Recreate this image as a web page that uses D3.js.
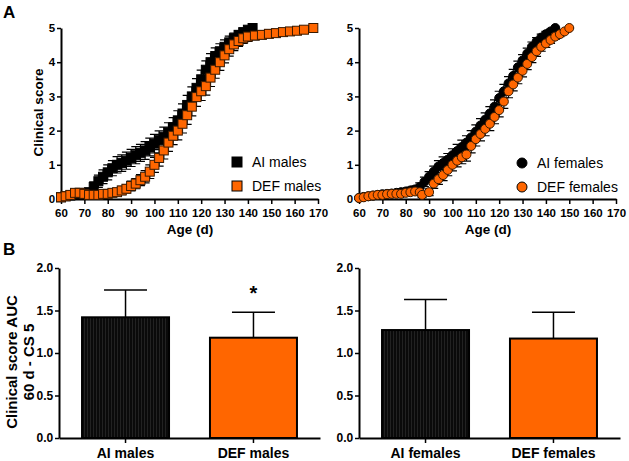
<!DOCTYPE html>
<html><head><meta charset="utf-8">
<script src="https://cdn.jsdelivr.net/npm/d3@7"></script>
<style>body{margin:0;background:#fff}svg{display:block}text{font-family:"Liberation Sans",Arial,sans-serif}</style>
</head><body>
<svg id="c" width="629" height="461"></svg>
<script>
// ---------- DATA ----------
const aiMalesDay  = [60,62,64,66,68,70,72,74,76,78,80,82,84,86,88,90,92,94,96,98,100,102,104,106,108,110,112,114,116,118,120,122,124,126,128,130,132,134,136,138,140,142];
const aiMalesMean = [0.05,0.08,0.1,0.15,0.18,0.15,0.2,0.35,0.52,0.65,0.78,0.9,1.0,1.05,1.12,1.2,1.28,1.35,1.42,1.52,1.62,1.72,1.82,1.95,2.1,2.3,2.5,2.75,3.0,3.25,3.5,3.78,4.0,4.18,4.32,4.45,4.58,4.7,4.8,4.88,4.95,5.0];
const aiMalesSem  = [0.05,0.06,0.07,0.08,0.08,0.08,0.1,0.15,0.18,0.2,0.22,0.22,0.24,0.24,0.25,0.25,0.25,0.25,0.26,0.26,0.27,0.27,0.28,0.28,0.28,0.28,0.28,0.28,0.28,0.27,0.27,0.26,0.25,0.24,0.22,0.2,0.18,0.15,0.12,0.1,0.06,0.0];
const defMalesDay  = [60,62,64,66,68,70,72,74,76,78,80,82,84,86,88,90,92,94,96,98,100,102,104,106,108,110,112,114,116,118,120,122,124,126,128,130,132,134,136,138,140,143,146,149,152,155,158,161,164,168];
const defMalesMean = [0.05,0.08,0.12,0.18,0.18,0.15,0.12,0.12,0.12,0.15,0.15,0.18,0.2,0.25,0.3,0.38,0.45,0.55,0.65,0.8,1.0,1.2,1.42,1.65,1.85,2.0,2.2,2.45,2.7,2.98,3.15,3.3,3.55,3.78,4.0,4.2,4.38,4.52,4.62,4.7,4.75,4.78,4.8,4.83,4.85,4.88,4.9,4.92,4.95,5.0];
const defMalesSem  = [0.05,0.06,0.08,0.1,0.1,0.08,0.08,0.08,0.08,0.08,0.1,0.1,0.1,0.12,0.12,0.14,0.15,0.16,0.18,0.2,0.22,0.24,0.25,0.26,0.26,0.27,0.27,0.27,0.27,0.27,0.27,0.26,0.26,0.25,0.24,0.22,0.2,0.18,0.16,0.15,0.14,0.13,0.12,0.12,0.11,0.1,0.09,0.08,0.06,0.0];
const aiFemDay  = [60,62,64,66,68,70,72,74,76,78,80,82,84,86,88,90,92,94,96,98,100,102,104,106,108,110,112,114,116,118,120,122,124,126,128,130,132,134,136,138,140,142,144];
const aiFemMean = [0.03,0.06,0.08,0.1,0.12,0.14,0.15,0.16,0.18,0.2,0.22,0.25,0.28,0.35,0.5,0.65,0.8,0.95,1.05,1.15,1.28,1.4,1.52,1.65,1.8,1.97,2.15,2.32,2.5,2.7,2.95,3.15,3.38,3.6,3.85,4.05,4.25,4.45,4.6,4.72,4.82,4.9,5.0];
const aiFemSem  = [0.03,0.04,0.05,0.05,0.06,0.06,0.06,0.07,0.07,0.08,0.08,0.09,0.1,0.12,0.14,0.15,0.16,0.17,0.18,0.18,0.19,0.2,0.2,0.2,0.2,0.2,0.2,0.2,0.2,0.2,0.2,0.2,0.2,0.19,0.18,0.17,0.16,0.14,0.12,0.1,0.08,0.06,0.0];
const defFemDay  = [60,62,64,66,68,70,72,74,76,78,80,82,84,86,87,90,92,94,96,98,100,102,104,106,108,110,112,114,116,118,120,122,124,126,128,130,132,134,136,138,140,142,144,146,148,150];
const defFemMean = [0.03,0.05,0.08,0.1,0.12,0.12,0.14,0.15,0.15,0.15,0.18,0.2,0.22,0.2,0.12,0.2,0.45,0.58,0.7,0.85,1.0,1.12,1.22,1.3,1.55,1.75,1.9,2.05,2.2,2.4,2.6,2.85,3.15,3.35,3.55,3.75,3.95,4.15,4.32,4.45,4.55,4.65,4.75,4.82,4.9,5.0];
const defFemSem  = [0.03,0.04,0.05,0.05,0.06,0.06,0.06,0.07,0.07,0.07,0.08,0.08,0.09,0.09,0.08,0.1,0.14,0.15,0.16,0.17,0.18,0.18,0.19,0.19,0.2,0.2,0.2,0.2,0.2,0.2,0.2,0.2,0.19,0.19,0.18,0.18,0.17,0.16,0.15,0.13,0.12,0.1,0.08,0.07,0.05,0.0];

const xTicks = [60,70,80,90,100,110,120,130,140,150,160,170];
const yTicksA = [0,1,2,3,4,5];
const yTicksB = [0,0.5,1.0,1.5,2.0];

const barMaleCats = ["AI males","DEF males"];
const barMaleMean = [1.42,1.18];
const barMaleErr  = [0.32,0.30];
const barFemCats = ["AI females","DEF females"];
const barFemMean = [1.27,1.17];
const barFemErr  = [0.36,0.31];

const legendMales = ["AI males","DEF males"];
const legendFemales = ["AI females","DEF females"];

// ---------- DRAW ----------
const ORANGE = "#ff6600";
const svg = d3.select("#c");
const defs = svg.append("defs");
const pat = defs.append("pattern").attr("id","stripes").attr("patternUnits","userSpaceOnUse").attr("width",3).attr("height",10);
pat.append("rect").attr("width",3).attr("height",10).attr("fill","#0a0a0a");
pat.append("rect").attr("width",1).attr("height",10).attr("fill","#222");

const bold = "bold";

function styleAxis(g){
  g.selectAll(".domain").attr("stroke","#000").attr("stroke-width",2);
  g.selectAll(".tick line").attr("stroke","#000").attr("stroke-width",1.5);
  g.selectAll(".tick text").attr("fill","#000").attr("font-weight",bold);
}

function seriesPanel(x0, legend, groups, shape){
  const x = d3.scaleLinear().domain([60,170]).range([x0, x0+257]);
  const y = d3.scaleLinear().domain([0,5]).range([199,28]);
  const gx = svg.append("g").attr("transform","translate(0,199)")
    .call(d3.axisBottom(x).tickValues(xTicks).tickSize(5).tickSizeOuter(0).tickFormat(d3.format("d")));
  styleAxis(gx); gx.selectAll(".tick text").attr("font-size","11.5px").attr("dy","0.9em");
  const gy = svg.append("g").attr("transform",`translate(${x0},0)`)
    .call(d3.axisLeft(y).tickValues(yTicksA).tickSize(4).tickSizeOuter(0).tickFormat(d3.format("d")));
  styleAxis(gy); gy.selectAll(".tick text").attr("font-size","11.5px").attr("dx","0.1em");
  svg.append("text").attr("x",x0+129).attr("y",234).attr("text-anchor","middle")
    .attr("font-size","13.5px").attr("font-weight",bold).text("Age (d)");

  groups.forEach((gr,gi)=>{
    const pts = gr.day.map((d,i)=>({d, m:gr.mean[i], s:gr.sem[i]}));
    const g = svg.append("g");
    g.append("path").datum(pts)
      .attr("d", d3.line().x(p=>x(p.d)).y(p=>y(p.m)))
      .attr("fill","none").attr("stroke","#000").attr("stroke-width",1);
    g.selectAll(".eb").data(pts).join("path")
      .attr("d", p=>{const cx=x(p.d), t=y(Math.min(5.2,p.m+p.s)), b=y(Math.max(0,p.m-p.s));
        return `M${cx},${t}V${b}M${cx-4.5},${t}H${cx+4.5}M${cx-4.5},${b}H${cx+4.5}`;})
      .attr("stroke","#000").attr("stroke-width",1.2).attr("fill","none");
    if(shape==="square"){
      g.selectAll(".mk").data(pts).join("rect")
        .attr("x",p=>x(p.d)-4.5).attr("y",p=>y(p.m)-4.5).attr("width",9).attr("height",9)
        .attr("fill",gr.color).attr("stroke",gr.stroke).attr("stroke-width",1);
    } else {
      g.selectAll(".mk").data(pts).join("circle")
        .attr("cx",p=>x(p.d)).attr("cy",p=>y(p.m)).attr("r",4.5)
        .attr("fill",gr.color).attr("stroke",gr.stroke).attr("stroke-width",1);
    }
  });

  // legend
  const lx = shape==="square" ? x0+176 : x0+163;
  legend.forEach((t,i)=>{
    const ly = (shape==="square"?162:163) + i*24;
    const c = groups[i].color;
    if(shape==="square") svg.append("rect").attr("x",lx-5).attr("y",ly-5).attr("width",10).attr("height",10).attr("fill",c).attr("stroke","#000").attr("stroke-width",1);
    else svg.append("circle").attr("cx",lx).attr("cy",ly).attr("r",5).attr("fill",c).attr("stroke","#000").attr("stroke-width",1);
    svg.append("text").attr("x",lx+15).attr("y",ly+5).attr("font-size","14px").text(t);
  });
}

seriesPanel(61, legendMales, [
  {day:aiMalesDay, mean:aiMalesMean, sem:aiMalesSem, color:"#000", stroke:"#000"},
  {day:defMalesDay, mean:defMalesMean, sem:defMalesSem, color:ORANGE, stroke:"#3a1a00"}
], "square");
seriesPanel(359, legendFemales, [
  {day:aiFemDay, mean:aiFemMean, sem:aiFemSem, color:"#000", stroke:"#000"},
  {day:defFemDay, mean:defFemMean, sem:defFemSem, color:ORANGE, stroke:"#3a1a00"}
], "circle");

svg.append("text").attr("transform","translate(43,112.5) rotate(-90)").attr("text-anchor","middle")
  .attr("font-size","13.5px").attr("font-weight",bold).text("Clinical score");

function barPanel(x0, cats, means, errs, star){
  const x = d3.scaleBand().domain(cats).range([x0, x0+261]).paddingInner(0.32).paddingOuter(0.18);
  const y = d3.scaleLinear().domain([0,2]).range([438,268]);
  const fills = ["url(#stripes)", ORANGE];
  cats.forEach((c,i)=>{
    const cx = x(c)+x.bandwidth()/2, top=y(means[i]+errs[i]);
    svg.append("line").attr("x1",cx).attr("x2",cx).attr("y1",y(means[i])).attr("y2",top).attr("stroke","#000").attr("stroke-width",1.5);
    svg.append("line").attr("x1",cx-21.5).attr("x2",cx+21.5).attr("y1",top).attr("y2",top).attr("stroke","#000").attr("stroke-width",1.5);
    svg.append("rect").attr("x",x(c)).attr("y",y(means[i])).attr("width",x.bandwidth()).attr("height",y(0)-y(means[i]))
      .attr("fill",fills[i]).attr("stroke","#000").attr("stroke-width",2);
    if(star && i===1) svg.append("text").attr("x",cx).attr("y",top-12).attr("text-anchor","middle")
      .attr("font-size","20px").attr("font-weight",bold).text("*");
  });
  const gx = svg.append("g").attr("transform","translate(0,438)")
    .call(d3.axisBottom(x).tickSize(5).tickSizeOuter(0));
  styleAxis(gx); gx.selectAll(".tick text").attr("font-size","14px").attr("dy","0.85em");
  const gy = svg.append("g").attr("transform",`translate(${x0},0)`)
    .call(d3.axisLeft(y).tickValues(yTicksB).tickSize(4).tickSizeOuter(0).tickFormat(d3.format(".1f")));
  styleAxis(gy); gy.selectAll(".tick text").attr("font-size","12px").attr("dx","0.1em");
}
barPanel(59, barMaleCats, barMaleMean, barMaleErr, true);
barPanel(359, barFemCats, barFemMean, barFemErr, false);

svg.append("text").attr("transform","translate(12,362) rotate(-90)").attr("text-anchor","middle")
  .attr("font-size","15px").attr("font-weight",bold).attr("dy","0.35em").text("Clinical score AUC");
svg.append("text").attr("transform","translate(29,362) rotate(-90)").attr("text-anchor","middle")
  .attr("font-size","15px").attr("font-weight",bold).attr("dy","0.35em").text("60 d - CS 5");

svg.append("text").attr("x",3).attr("y",18).attr("font-size","17px").attr("font-weight",bold).text("A");
svg.append("text").attr("x",3).attr("y",255).attr("font-size","17px").attr("font-weight",bold).text("B");
</script>
</body></html>
